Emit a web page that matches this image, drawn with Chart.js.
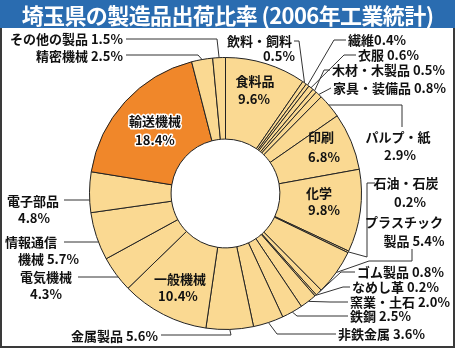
<!DOCTYPE html>
<html>
<head>
<meta charset="utf-8">
<script src="https://cdn.jsdelivr.net/npm/chart.js@4.4.1/dist/chart.umd.min.js"></script>
<style>
body { margin: 0; background: #fff; }
#wrap { position: relative; width: 455px; height: 348px; overflow: hidden; }
#title { position: absolute; left: 0; top: 0; width: 455px; height: 28px; background: #2a6cb0; color: #fff;
  font: bold 22px "Noto Sans CJK JP"; line-height: 28px; text-align: center; letter-spacing: -0.6px; }
#frame { position: absolute; left: 0; top: 0; width: 451px; height: 344px; border: 2px solid #3a3a3a; pointer-events: none; }
canvas { position: absolute; left: 0; top: 0; }
</style>
</head>
<body>
<div id="wrap">
  <canvas id="chart" width="455" height="348"></canvas>
  <div id="frame"></div>
  <div id="title">埼玉県の製造品出荷比率 (2006年工業統計)</div>
</div>
<script>
// clockwise from 12 o'clock
const categories = ['食料品', '飲料・飼料', '繊維', '衣服', '木材・木製品', '家具・装備品', 'パルプ・紙',
  '印刷', '化学', '石油・石炭', 'プラスチック製品', 'ゴム製品', 'なめし革', '窯業・土石', '鉄鋼',
  '非鉄金属', '金属製品', '一般機械', '電気機械', '情報通信機械', '電子部品', '輸送機械', '精密機械', 'その他の製品'];
const values = [9.6, 0.5, 0.4, 0.6, 0.5, 0.8, 2.9,
  6.8, 9.8, 0.2, 5.4, 0.8, 0.2, 2.0, 2.5,
  3.6, 5.6, 10.4, 4.3, 5.7, 4.8, 18.4, 2.5, 1.5];
const highlight = '輸送機械';

const paleColor = '#fad992';
const hiColor = '#f0872a';

// where each label sits (one anchor per text line) and how its leader runs
const labelLayout = [
  { name: '食料品', pos: [[255, 81], [254, 99]], align: 'center' },
  { name: '飲料・飼料', pos: [[292, 41], [295, 56]], align: 'right', leader: [[294, 41], [299, 41]] },
  { name: '繊維', pos: [[348, 40]], align: 'left', sep: '', leader: [[346, 40], [334, 40]] },
  { name: '衣服', pos: [[358, 55]], align: 'left', leader: [[356, 55], [344, 55]] },
  { name: '木材・木製品', pos: [[332, 70]], align: 'left', leader: [[330, 70], [324, 70]] },
  { name: '家具・装備品', pos: [[333, 88]], align: 'left', leader: [[331, 88]] },
  { name: 'パルプ・紙', pos: [[398, 137], [400, 155]], align: 'center', leader: [[402, 127], [402, 105]], ring: true },
  { name: '印刷', pos: [[321, 137], [324, 157]], align: 'center' },
  { name: '化学', pos: [[319, 193], [324, 210]], align: 'center' },
  { name: '石油・石炭', pos: [[406, 183], [410, 202]], align: 'center', leader: [[375, 183], [367, 183], [367, 257]] },
  { name: 'プラスチック製品', pos: [[404, 222], [414, 241]], align: 'center', split: 6, leader: [[412, 249], [412, 261], [369, 261]] },
  { name: 'ゴム製品', pos: [[357, 272]], align: 'left', leader: [[355, 272], [341, 272]] },
  { name: 'なめし革', pos: [[352, 287]], align: 'left', leader: [[350, 287], [343, 287]] },
  { name: '窯業・土石', pos: [[350, 302]], align: 'left', leader: [[348, 302], [330, 302]] },
  { name: '鉄鋼', pos: [[350, 316]], align: 'left', leader: [[348, 316], [297, 316]] },
  { name: '非鉄金属', pos: [[338, 334]], align: 'left', leader: [[336, 334], [277, 334]] },
  { name: '金属製品', pos: [[158, 336]], align: 'right', leader: [[161, 335], [231, 335]] },
  { name: '一般機械', pos: [[180, 279], [178, 296]], align: 'center' },
  { name: '電気機械', pos: [[46, 277], [46, 294]], align: 'center', leader: [[78, 277]], ring: true },
  { name: '情報通信機械', pos: [[5, 242], [18, 259]], align: 'left', split: 4, leader: [[64, 242]], ring: true },
  { name: '電子部品', pos: [[33, 201], [34, 218]], align: 'center', leader: [[64, 200]], ring: true },
  { name: '輸送機械', pos: [[155, 121], [155, 140]], align: 'center', halo: true },
  { name: '精密機械', pos: [[123, 56]], align: 'right', leader: [[126, 55], [198, 55]] },
  { name: 'その他の製品', pos: [[123, 39]], align: 'right', leader: [[126, 39], [217, 39]] }
];

const labelPlugin = {
  id: 'sliceLabels',
  afterDatasetsDraw(chart) {
    const ctx = chart.ctx;
    const arcs = chart.getDatasetMeta(0).data;
    ctx.save();
    ctx.font = 'bold 13px "Noto Sans CJK JP"';
    ctx.textBaseline = 'middle';
    labelLayout.forEach(item => {
      const i = categories.indexOf(item.name);
      const p = arcs[i].getProps(['x', 'y', 'startAngle', 'endAngle', 'outerRadius']);
      const mid = (p.startAngle + p.endAngle) / 2;
      const r = p.outerRadius;
      let ex = p.x + Math.cos(mid) * r;
      let ey = p.y + Math.sin(mid) * r;
      if (item.leader) {
        const pts = item.leader;
        if (item.ring) {
          ey = pts[pts.length - 1][1];
          const dy = ey - p.y;
          ex = p.x + Math.sign(Math.cos(mid)) * Math.sqrt(r * r - dy * dy);
        }
        ctx.strokeStyle = '#333';
        ctx.lineWidth = 1;
        ctx.beginPath();
        ctx.moveTo(pts[0][0], pts[0][1]);
        for (let k = 1; k < pts.length; k++) ctx.lineTo(pts[k][0], pts[k][1]);
        ctx.lineTo(ex, ey);
        ctx.stroke();
      }
      const val = values[i].toFixed(1) + '%';
      let lines;
      if (item.split != null) lines = [item.name.slice(0, item.split), item.name.slice(item.split) + ' ' + val];
      else if (item.pos.length === 2) lines = [item.name, val];
      else lines = [item.name + (item.sep != null ? item.sep : ' ') + val];
      ctx.textAlign = item.align;
      lines.forEach((t, k) => {
        const [tx, ty] = item.pos[k];
        if (item.halo) {
          ctx.strokeStyle = '#fff';
          ctx.lineWidth = 3;
          ctx.lineJoin = 'round';
          ctx.strokeText(t, tx, ty);
        }
        ctx.fillStyle = '#111';
        ctx.fillText(t, tx, ty);
      });
    });
    ctx.restore();
  }
};

new Chart(document.getElementById('chart'), {
  type: 'doughnut',
  data: {
    labels: categories,
    datasets: [{
      data: values,
      backgroundColor: categories.map(c => c === highlight ? hiColor : paleColor),
      borderColor: '#222',
      borderWidth: 1
    }]
  },
  options: {
    responsive: false,
    animation: false,
    cutout: '40%',
    layout: { padding: { left: 89, right: 93, top: 57, bottom: 18 } },
    plugins: { legend: { display: false }, tooltip: { enabled: false }, title: { display: false } }
  },
  plugins: [labelPlugin]
});
</script>
</body>
</html>
